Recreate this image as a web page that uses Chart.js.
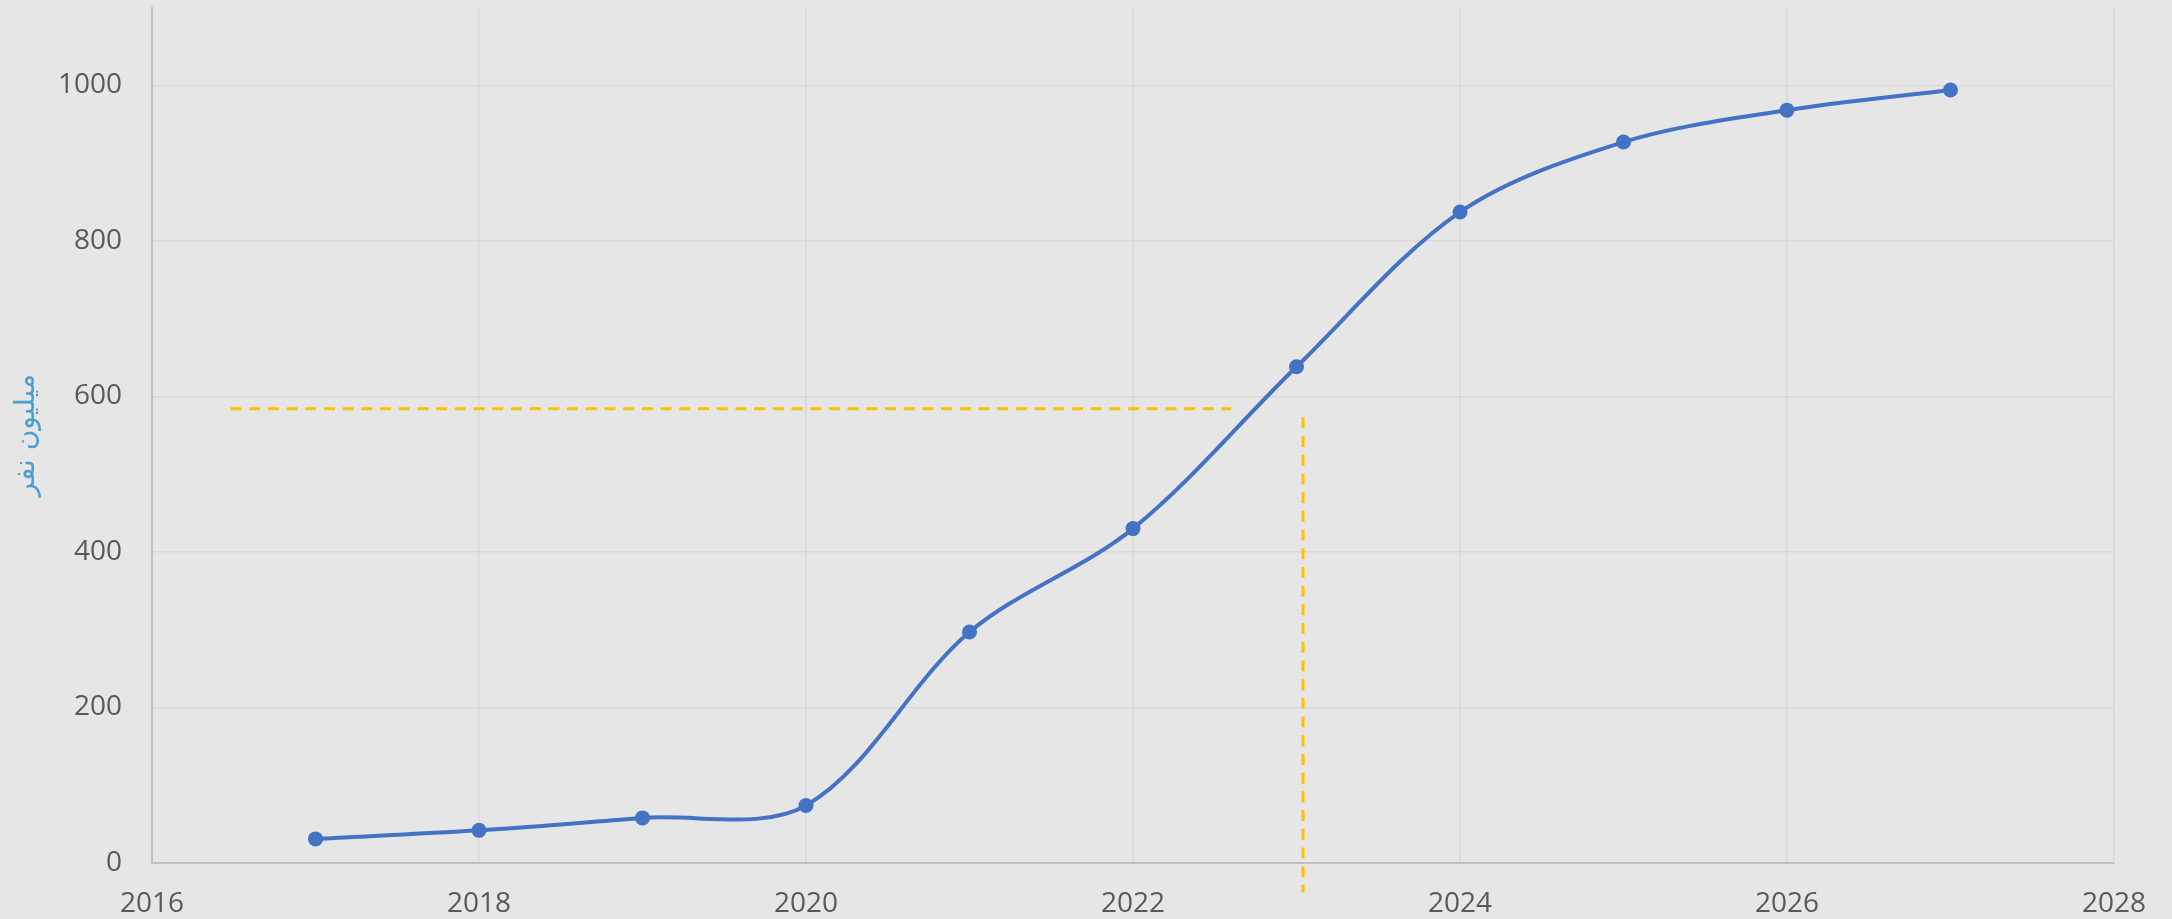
<!DOCTYPE html>
<html>
<head>
<meta charset="utf-8">
<script src="https://cdn.jsdelivr.net/npm/chart.js@4/dist/chart.umd.min.js"></script>
<style>
html,body{margin:0;padding:0;background:#e6e6e6;}
canvas{display:block;}
</style>
</head>
<body>
<canvas id="c" width="2172" height="919"></canvas>
<script>
// Data
const years = [2017, 2018, 2019, 2020, 2021, 2022, 2023, 2024, 2025, 2026, 2027];
const users = [31, 42, 58, 74, 297, 430, 638, 837, 927, 968, 994];
const hGuideX = [2016.48, 2022.6];
const hGuideY = [584, 584];
const vGuideX = [2023.04, 2023.04];
const vGuideY = [573, -38];
const yTitle = 'میلیون نفر';
const xMin = 2016, xMax = 2028, xStep = 2;
const yMin = 0, yMax = 1100, yStep = 200, yTopTick = 1000;

const toPts = (xs, ys) => xs.map((x, i) => ({x: x, y: ys[i]}));

const bg = {
  id: 'bg',
  beforeDraw(chart) {
    const ctx = chart.ctx;
    ctx.save();
    ctx.fillStyle = '#e6e6e6';
    ctx.fillRect(0, 0, chart.width, chart.height);
    ctx.restore();
  }
};

new Chart(document.getElementById('c'), {
  type: 'line',
  data: {
    datasets: [
      {
        data: toPts(years, users),
        borderColor: '#4472c4',
        backgroundColor: '#4472c4',
        borderWidth: 4,
        pointRadius: 7.5,
        pointBorderWidth: 0,
        pointBackgroundColor: '#4472c4',
        tension: 0.33,
        fill: false,
        order: 0
      },
      {
        data: toPts(hGuideX, hGuideY),
        borderColor: '#ffc000',
        borderWidth: 3,
        borderDash: [11, 7.7],
        pointRadius: 0,
        tension: 0,
        fill: false,
        clip: false,
        order: 1
      },
      {
        data: toPts(vGuideX, vGuideY),
        borderColor: '#ffc000',
        borderWidth: 3,
        borderDash: [11, 7.7],
        pointRadius: 0,
        tension: 0,
        fill: false,
        clip: false,
        order: 1
      }
    ]
  },
  options: {
    responsive: false,
    animation: false,
    devicePixelRatio: 1,
    layout: {padding: {left: 0, right: 58, top: 6, bottom: 0}},
    plugins: {legend: {display: false}, tooltip: {enabled: false}},
    scales: {
      x: {
        type: 'linear',
        min: xMin, max: xMax,
        ticks: {
          stepSize: xStep,
          color: '#595959',
          font: {family: 'Open Sans', size: 28},
          padding: 24,
          callback: v => String(v)
        },
        grid: {color: '#d9d9d9', lineWidth: 1.5, drawTicks: false},
        border: {color: '#bfbfbf', width: 2},
        afterFit(s) { s.height = 56; s.paddingLeft = 0; s.paddingRight = 0; }
      },
      y: {
        type: 'linear',
        min: yMin, max: yMax,
        ticks: {
          stepSize: yStep,
          color: '#595959',
          font: {family: 'Open Sans', size: 28},
          padding: 30,
          callback: v => String(v)
        },
        afterBuildTicks(s) { s.ticks = s.ticks.filter(t => t.value <= yTopTick); },
        grid: {color: '#d9d9d9', lineWidth: 1.5, drawTicks: false},
        border: {color: '#bfbfbf', width: 2},
        title: {
          display: true,
          text: yTitle,
          color: '#4a9fd0',
          font: {family: 'DejaVu Sans', size: 28},
          padding: {top: 10, bottom: 0}
        },
        afterFit(s) { s.width = 152; s.paddingTop = 0; s.paddingBottom = 0; }
      }
    }
  },
  plugins: [bg]
});
</script>
</body>
</html>
